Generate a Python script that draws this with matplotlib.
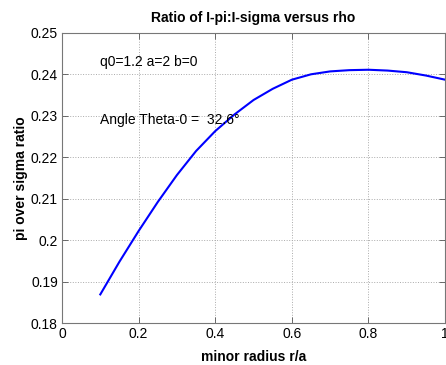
import matplotlib
matplotlib.use("Agg")
import matplotlib.pyplot as plt

plt.rcParams['font.family'] = ['Liberation Sans', 'DejaVu Sans']

# values
rho = [0.10, 0.15, 0.20, 0.25, 0.30, 0.35, 0.40, 0.45, 0.50, 0.55,
       0.60, 0.65, 0.70, 0.75, 0.80, 0.85, 0.90, 0.95, 1.00]
ratio = [0.1869, 0.1948, 0.2022, 0.2092, 0.2157, 0.2215, 0.2263, 0.2303, 0.2338, 0.2365,
         0.2387, 0.2400, 0.2407, 0.2410, 0.2411, 0.2409, 0.2405, 0.2397, 0.2387]
xticks = [0, 0.2, 0.4, 0.6, 0.8, 1]
xticklabels = ['0', '0.2', '0.4', '0.6', '0.8', '1']
yticks = [0.18, 0.19, 0.2, 0.21, 0.22, 0.23, 0.24, 0.25]
yticklabels = ['0.18', '0.19', '0.2', '0.21', '0.22', '0.23', '0.24', '0.25']

fig = plt.figure(figsize=(4.46, 3.65), dpi=100)
ax = fig.add_axes([0.139, 0.115, 0.859, 0.795])

ax.plot(rho, ratio, color='blue', linewidth=1.5)

ax.set_xlim(0, 1)
ax.set_ylim(0.18, 0.25)
ax.set_xticks(xticks)
ax.set_xticklabels(xticklabels)
ax.set_yticks(yticks)
ax.set_yticklabels(yticklabels)
ax.tick_params(direction='in', length=4, width=0.6, color='#555555',
               top=True, right=True, labelsize=10, pad=3)
ax.grid(True, linestyle=':', color='#aaaaaa', linewidth=0.7)
for s in ax.spines.values():
    s.set_color('#777777')
    s.set_linewidth(0.8)

ax.set_title('Ratio of I-pi:I-sigma versus rho', fontsize=10, fontweight='bold', pad=8)
ax.set_xlabel('minor radius r/a', fontsize=10, fontweight='bold', labelpad=6)
ax.set_ylabel('pi over sigma ratio', fontsize=10, fontweight='bold', labelpad=2)

ax.text(0.1, 0.243, 'q0=1.2 a=2 b=0', fontsize=10, va='center')
ax.text(0.1, 0.229, 'Angle Theta-0 =  32.6\u00b0', fontsize=10, va='center')

fig.savefig('out.png', dpi=100)
